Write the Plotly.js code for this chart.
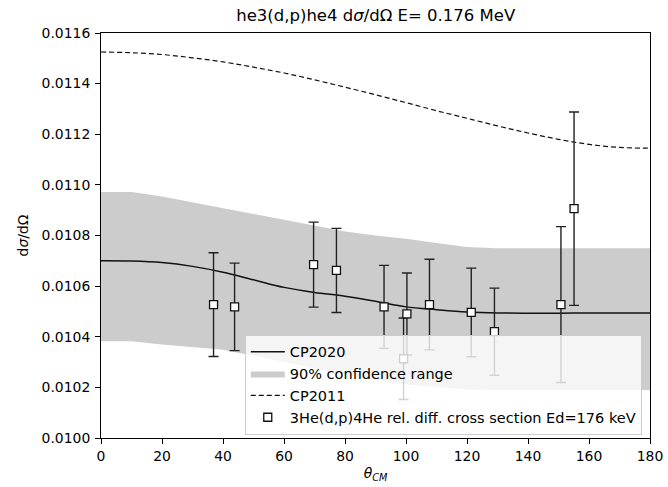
<!DOCTYPE html>
<html>
<head>
<meta charset="utf-8">
<script src="https://cdn.plot.ly/plotly-3.0.1.min.js"></script>
<style>html,body{margin:0;padding:0;background:#fff;}#chart{width:668px;height:487px;}</style>
</head>
<body>
<div id="chart"></div>
<script>
// Model curves (theta in degrees)
const thetaCurve = [0,10,20,30,40,50,60,70,80,90,100,110,120,130,140,150,160,170,180];
const cp2020 = [0.010700,0.010699,0.010693,0.010678,0.010655,0.010625,0.010595,0.010575,0.010560,0.010540,0.010518,0.010507,0.010498,0.010494,0.010493,0.010493,0.010494,0.010494,0.010494];
const cp2011 = [0.011525,0.011522,0.011515,0.011502,0.011486,0.011465,0.011442,0.011415,0.011386,0.011356,0.011325,0.011293,0.011263,0.011233,0.011205,0.011180,0.011160,0.011148,0.011145];
const bandUpper = [0.010972,0.010972,0.010954,0.010931,0.010909,0.010885,0.010862,0.010839,0.010816,0.010800,0.010787,0.010770,0.010755,0.010750,0.010750,0.010750,0.010750,0.010750,0.010750];
const bandLower = [0.010382,0.010382,0.010369,0.010360,0.010349,0.010325,0.010300,0.010275,0.010250,0.010230,0.010212,0.010200,0.010192,0.010190,0.010190,0.010190,0.010190,0.010190,0.010190];

// Experimental data
const thetaData = [36.9,43.8,69.7,77.2,92.8,100.3,99.2,107.7,121.4,129.0,150.8,155.1];
const xsData = [0.010527,0.010518,0.010685,0.010662,0.010518,0.010490,0.010313,0.010527,0.010496,0.010420,0.010527,0.010906];
const xsErr = [0.000205,0.000173,0.000168,0.000166,0.000164,0.000162,0.000161,0.000179,0.000175,0.000172,0.000308,0.000382];

const xTicks = [0,20,40,60,80,100,120,140,160,180];
const yTicks = [0.0100,0.0102,0.0104,0.0106,0.0108,0.0110,0.0112,0.0114,0.0116];

const FAM = 'DejaVu Sans, sans-serif';
const font = {family:FAM, size:13.9, color:'#000'};

const traces = [
  {x: thetaCurve, y: bandLower, type:'scatter', mode:'lines', line:{width:0, color:'rgba(0,0,0,0)'}, showlegend:false, hoverinfo:'skip'},
  {x: thetaCurve, y: bandUpper, type:'scatter', mode:'lines', fill:'tonexty', fillcolor:'rgb(204,204,204)', line:{width:0, color:'rgb(204,204,204)'}, name:'90% confidence range', legendrank:2},
  {x: thetaCurve, y: cp2020, type:'scatter', mode:'lines', line:{color:'#111', width:1.5, shape:'spline'}, name:'CP2020', legendrank:1},
  {x: thetaCurve, y: cp2011, type:'scatter', mode:'lines', line:{color:'#111', width:1.2, dash:'5px,3px', shape:'spline'}, name:'CP2011', legendrank:3},
  {x: thetaData, y: xsData, type:'scatter', mode:'markers', name:'3He(d,p)4He rel. diff. cross section Ed=176 keV', legendrank:4,
   marker:{symbol:'square', size:8, color:'#fff', line:{color:'#111', width:1.3}},
   error_y:{type:'data', array: xsErr, visible:true, color:'#222', thickness:1.4, width:5}}
];

const layout = {
  width:668, height:487,
  margin:{l:101, r:18, t:33, b:49},
  paper_bgcolor:'#fff', plot_bgcolor:'#fff',
  font: font,
  title:{text:'he3(d,p)he4 d<i>σ</i>/dΩ E= 0.176 MeV', font:{family:FAM, size:16.5, color:'#000'}, x:0.5625, xanchor:'center', y:0.968, yanchor:'middle'},
  xaxis:{range:[0,180], tickvals:xTicks, ticktext:xTicks.map(String), ticks:'outside', ticklen:5, tickwidth:1, tickcolor:'#000',
    tickfont:{family:FAM, size:13.9, color:'#000'},
    showline:true, linecolor:'#000', linewidth:1, mirror:true, showgrid:false, zeroline:false,
    title:{text:'<i>θ</i><sub><i>CM</i></sub>', font:{family:FAM, size:13.9}, standoff:5}},
  yaxis:{range:[0.0100,0.0116], tickvals:yTicks, ticktext:yTicks.map(v=>v.toFixed(4)), ticks:'outside', ticklen:5, tickwidth:1, tickcolor:'#000',
    tickfont:{family:FAM, size:13.9, color:'#000'}, ticklabelstandoff:2,
    showline:true, linecolor:'#000', linewidth:1, mirror:true, showgrid:false, zeroline:false,
    title:{text:'d<i>σ</i>/dΩ', font:{family:FAM, size:13.9}, standoff:9}},
  legend:{x:0.985, xanchor:'right', y:0.008, yanchor:'bottom', bgcolor:'rgba(255,255,255,0.8)', bordercolor:'#ccc', borderwidth:1,
    font:{family:FAM, size:14.5, color:'#000'}, traceorder:'normal', tracegroupgap:0, itemwidth:34},
  showlegend:true
};

Plotly.newPlot('chart', traces, layout, {staticPlot:true, displayModeBar:false});
</script>
</body>
</html>
